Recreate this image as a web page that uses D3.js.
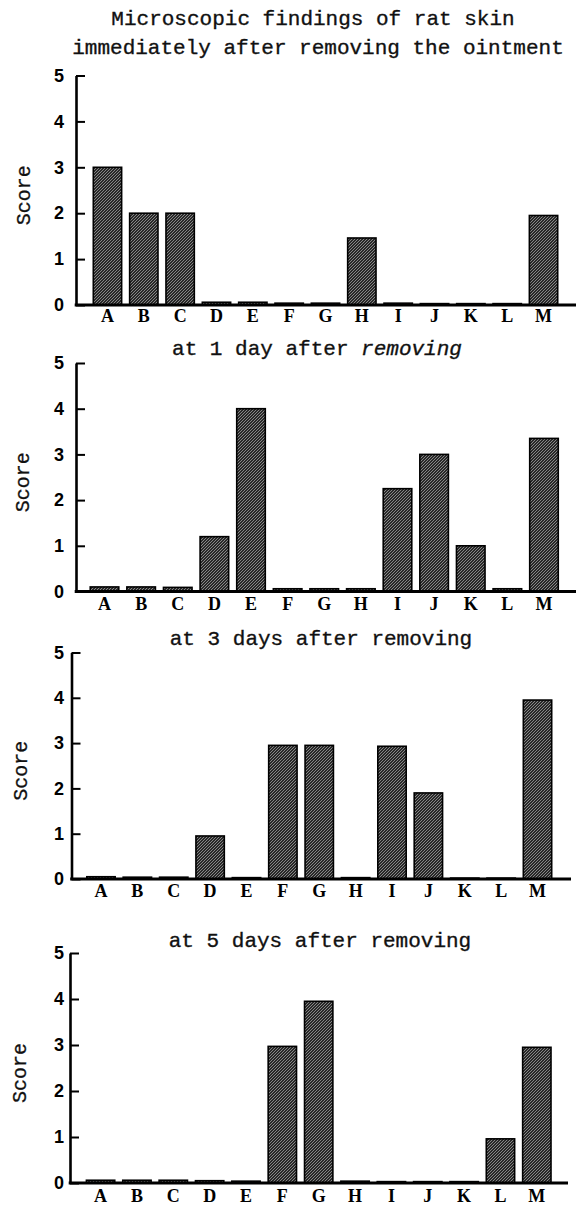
<!DOCTYPE html>
<html>
<head>
<meta charset="utf-8">
<script src="https://cdn.jsdelivr.net/npm/d3@7/dist/d3.min.js"></script>
<style>
  html, body { margin: 0; padding: 0; background: #fff; }
  svg { display: block; }
</style>
</head>
<body>
<script>
// ---- data ----
const categories = ["A","B","C","D","E","F","G","H","I","J","K","L","M"];
const immediateScores = [3.0, 2.0, 2.0, 0.06, 0.06, 0.04, 0.04, 1.46, 0.04, 0.03, 0.03, 0.03, 1.95];
const day1Scores      = [0.1, 0.1, 0.09, 1.2, 4.0, 0.06, 0.06, 0.06, 2.25, 3.0, 1.0, 0.06, 3.35];
const day3Scores      = [0.05, 0.04, 0.04, 0.95, 0.03, 2.95, 2.95, 0.03, 2.93, 1.9, 0.02, 0.02, 3.95];
const day5Scores      = [0.06, 0.06, 0.06, 0.05, 0.04, 2.97, 3.95, 0.04, 0.03, 0.03, 0.03, 0.96, 2.95];
const yTicks = [0, 1, 2, 3, 4, 5];
const yLabel = "Score";
const mainTitle = ["Microscopic findings of rat skin", "immediately after removing the ointment"];
const panelTitles = [null, ["at 1 day after ", "removing"], ["at 3 days after removing", ""], ["at 5 days after removing", ""]];

// ---- layout (positions/styles only) ----
const W = 576, H = 1207;
const panels = [
  { values: immediateScores, axisX: 76,   y0: 305,   y5: 75.5,  r0: 89.3, r1: 561.7, xEnd: 576, titleY: null, titleX: null, yLabX: 23, labPad: 4 },
  { values: day1Scores,      axisX: 76,   y0: 591.5, y5: 363,   r0: 86.2, r1: 562.3, xEnd: 576, titleY: 355,  titleX: 317, yLabX: 22, labPad: 6 },
  { values: day3Scores,      axisX: 71.5, y0: 879,   y5: 652.5, r0: 82.8, r1: 555.7, xEnd: 571, titleY: 645,  titleX: 321, yLabX: 20, labPad: 5 },
  { values: day5Scores,      axisX: 70,   y0: 1183,  y5: 953,   r0: 82.4, r1: 555,   xEnd: 568, titleY: 947,  titleX: 320, yLabX: 19, labPad: 6 }
];

const svg = d3.select("body").append("svg").attr("width", W).attr("height", H);
svg.append("rect").attr("width", W).attr("height", H).attr("fill", "#fff");

// hatched pattern
const defs = svg.append("defs");
const pat = defs.append("pattern").attr("id", "hatch").attr("patternUnits", "userSpaceOnUse")
  .attr("width", 3).attr("height", 3);
pat.append("rect").attr("width", 3).attr("height", 3).attr("fill", "#282828");
pat.append("path").attr("d", "M-1,1 l2,-2 M0,3 l3,-3 M2,4 l2,-2")
  .attr("stroke", "#b0b0b0").attr("stroke-width", 0.7);

const mono = "'Liberation Mono', 'Courier New', monospace";
const sans = "'Liberation Sans', Arial, sans-serif";
const serif = "'Liberation Serif', 'Times New Roman', serif";

// main title
svg.append("text").attr("x", 313).attr("y", 25).attr("text-anchor", "middle")
  .attr("font-family", mono).attr("font-size", 21).attr("fill", "#111")
  .attr("stroke", "#111").attr("stroke-width", 0.35).text(mainTitle[0]);
svg.append("text").attr("x", 318).attr("y", 54).attr("text-anchor", "middle")
  .attr("font-family", mono).attr("font-size", 21).attr("fill", "#111")
  .attr("stroke", "#111").attr("stroke-width", 0.35).text(mainTitle[1]);

panels.forEach((p, i) => {
  const g = svg.append("g");
  const x = d3.scaleBand().domain(categories).range([p.r0, p.r1]).paddingInner(0.22).paddingOuter(0.11);
  const y = d3.scaleLinear().domain([0, 5]).range([p.y0, p.y5]);

  // panel title
  const pt = panelTitles[i];
  if (pt) {
    const t = g.append("text").attr("x", p.titleX).attr("y", p.titleY).attr("text-anchor", "middle")
      .attr("font-family", mono).attr("font-size", 21).attr("fill", "#111")
      .attr("stroke", "#111").attr("stroke-width", 0.35);
    t.append("tspan").text(pt[0]);
    if (pt[1]) t.append("tspan").attr("font-style", "italic").text(pt[1]);
  }

  // bars
  g.selectAll("rect.bar").data(p.values).join("rect").attr("class", "bar")
    .attr("x", (d, j) => x(categories[j]))
    .attr("width", x.bandwidth())
    .attr("y", d => y(d))
    .attr("height", d => p.y0 - y(d))
    .attr("fill", "url(#hatch)")
    .attr("stroke", "#000").attr("stroke-width", 1.6);

  // y axis
  const ya = g.append("g").attr("transform", `translate(${p.axisX},0)`)
    .call(d3.axisLeft(y).tickValues(yTicks).tickFormat(d3.format("d"))
      .tickSizeInner(-9).tickSizeOuter(0).tickPadding(p.axisX - 64));
  ya.select(".domain").attr("stroke", "#000").attr("stroke-width", 2.6);
  ya.selectAll(".tick line").attr("stroke", "#000").attr("stroke-width", 2);
  ya.selectAll(".tick text").attr("font-family", sans).attr("font-weight", "bold")
    .attr("font-size", 18).attr("fill", "#000");

  // x axis
  const xa = g.append("g").attr("transform", `translate(0,${p.y0})`)
    .call(d3.axisBottom(x).tickSize(0).tickPadding(p.labPad));
  xa.select(".domain").remove();
  xa.selectAll(".tick text").attr("font-family", serif).attr("font-weight", "bold")
    .attr("font-size", 18).attr("fill", "#000");
  g.append("line").attr("x1", p.axisX - 1.3).attr("x2", p.xEnd).attr("y1", p.y0).attr("y2", p.y0)
    .attr("stroke", "#000").attr("stroke-width", 3);

  // y label
  g.append("text").attr("transform", `translate(${p.yLabX},${(p.y0 + p.y5) / 2 + 5}) rotate(-90)`)
    .attr("text-anchor", "middle").attr("dy", "0.35em")
    .attr("font-family", mono).attr("font-size", 20).attr("fill", "#111")
    .attr("stroke", "#111").attr("stroke-width", 0.3).text(yLabel);
});
</script>
</body>
</html>
